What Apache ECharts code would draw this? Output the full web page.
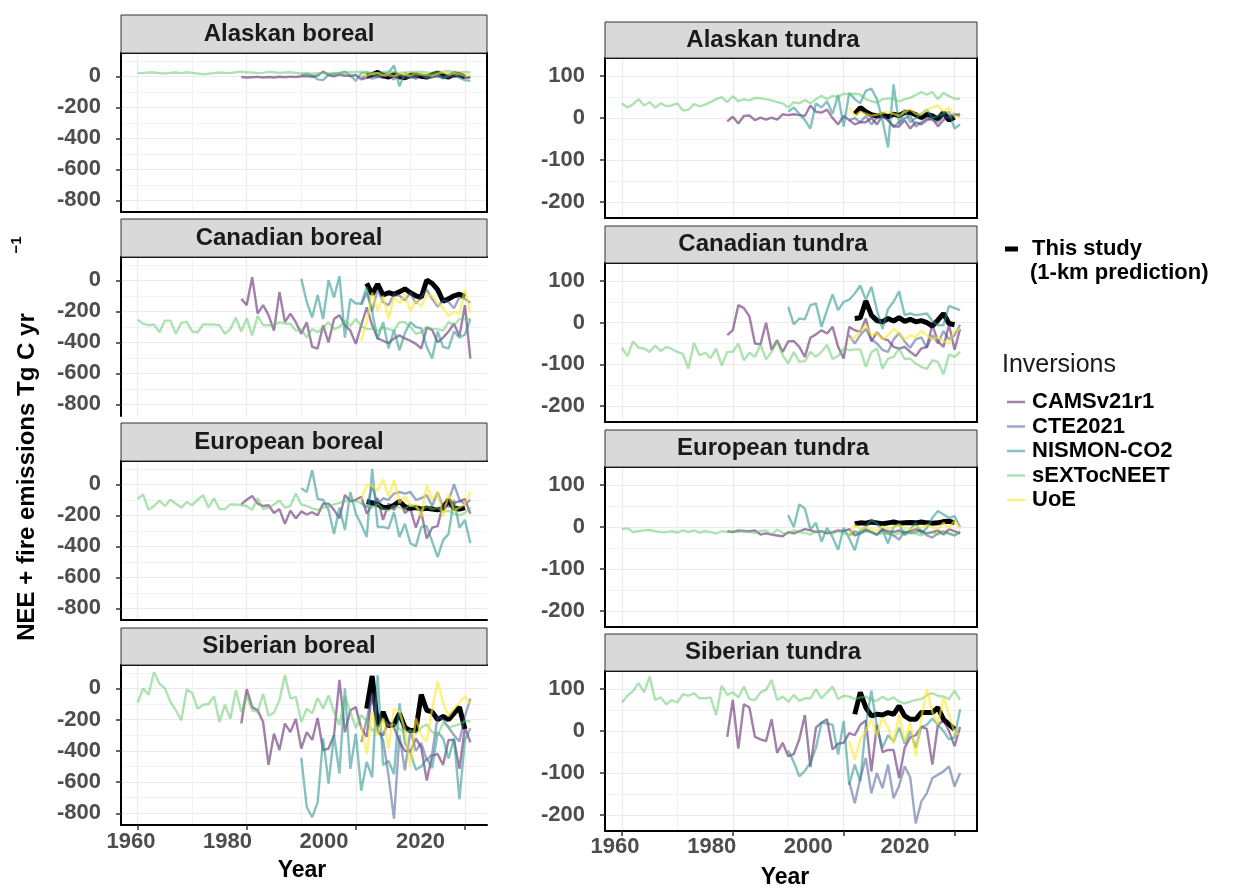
<!DOCTYPE html>
<html>
<head>
<meta charset="utf-8">
<script src="https://cdn.jsdelivr.net/npm/echarts@6/dist/echarts.min.js"></script>
<style>
html, body { margin: 0; background: #fff; }
#chart { width: 1236px; height: 888px; }
</style>
</head>
<body>
<div id="chart"></div>
<script>
// series order: This study, CAMSv21r1, CTE2021, NISMON-CO2, sEXTocNEET, UoE
const seriesNames = ['This study', 'CAMSv21r1', 'CTE2021', 'NISMON-CO2', 'sEXTocNEET', 'UoE'];
const startYears = [2002, 1979, 2001, 1990, 1960, 2001];
const xTicks = [1960, 1980, 2000, 2020];
const xMinorTicks = [1970, 1990, 2010];
const borealTicks = [-800, -600, -400, -200, 0];
const borealMinor = [-700, -500, -300, -100, 100];
const tundraTicks = [-200, -100, 0, 100];
const tundraMinor = [-150, -50, 50];

// Alaskan boreal
const thisAB = [0, 10, 25, 5, -5, 10, 0, -10, 5, 10, 0, -5, 10, 20, 5, -5, 15, 10, -5];
const camsAB = [-5, -8, -6, -4, -8, -5, -8, -3, -6, -2, -5, 0, 2, -3, 5, 30, 8, 0, 10, 5, 2, 8, -20, -10, 5, 0, -10, 10, 5, -15, -5, 0, -15, 5, -10, -5, 0, -10, 10, -5, 0, -10, -5];
const cteAB = [-10, 5, -15, -5, 10, 0, -20, 5, -10, -5, 0, 10, -15, -5, 5, 0, -10, 10, 5, -5, -10];
const nisAB = [10, 15, 5, -20, -25, 10, 15, 20, 30, 5, -30, 20, 25, 10, 0, 15, 25, 70, -65, 20, -10, 5, 15, -5, 0, 10, -15, 5, 20, -10, -25, -30];
const sextAB = [22, 20, 25, 24, 20, 18, 22, 24, 20, 26, 22, 18, 14, 16, 20, 24, 22, 20, 26, 30, 26, 24, 20, 22, 28, 26, 22, 24, 26, 22, 18, 20, 16, 20, 22, 18, 22, 20, 24, 26, 28, 30, 26, 22, 20, 28, 30, 26, 22, 24, 26, 28, 30, 24, 22, 26, 30, 32, 28, 24, 28, 25];
const uoeAB = [10, 5, 15, 20, 5, 10, 0, 15, 10, 5, 20, 15, 10, 5, 15, 25, 10, 20, 15, 5, 10];

// Canadian boreal
const thisCB = [-20, -90, -25, -95, -80, -90, -75, -55, -80, -100, -110, 0, -20, -60, -135, -120, -100, -90, -105];
const camsCB = [-120, -160, 20, -215, -160, -225, -325, -75, -270, -215, -270, -345, -270, -430, -440, -290, -400, -250, -225, -290, -325, -410, -290, -175, -290, -375, -390, -405, -375, -355, -375, -390, -410, -440, -305, -320, -400, -370, -330, -280, -360, -160, -505];
const cteCB = [-160, -80, -200, -60, -140, -160, -90, -100, -130, -80, -150, -110, -60, -120, -170, -130, -140, -180, -110, -120, -145];
const nisCB = [10, -140, -240, -95, -250, 0, -110, 25, -370, -120, -150, -150, -45, -205, -380, -270, -440, -320, -450, -340, -270, -300, -310, -430, -505, -330, -430, -440, -330, -370, -350, -250];
const sextCB = [-255, -280, -290, -285, -335, -260, -260, -345, -275, -268, -330, -335, -285, -285, -285, -290, -345, -315, -240, -330, -245, -355, -230, -290, -290, -290, -270, -280, -280, -325, -315, -370, -315, -335, -305, -270, -315, -300, -260, -295, -250, -295, -315, -315, -325, -305, -315, -325, -270, -270, -300, -345, -335, -300, -315, -315, -325, -270, -290, -250, -250, -250];
const uoeCB = [-390, -270, -80, -200, -100, -250, -110, -150, -90, -200, -130, -170, -90, -100, -150, -180, -230, -200, -220, -60, -210];

// European boreal
const thisEB = [-110, -120, -130, -150, -150, -135, -110, -145, -155, -150, -160, -155, -160, -165, -155, -100, -155, -160, -150];
const camsEB = [-130, -100, -75, -125, -140, -135, -185, -160, -255, -170, -220, -175, -195, -180, -200, -125, -125, -165, -220, -70, -110, -100, -80, -190, -130, -90, -230, -125, -165, -100, -185, -155, -280, -180, -350, -280, -270, -125, -145, -120, -110, -95, -190];
const cteEB = [-120, -150, -10, -130, -90, -100, -60, -50, -60, -50, -100, -90, -70, -140, -50, -150, -110, 0, -100, -130, -100];
const nisEB = [-25, -50, 90, -95, -100, -165, -320, -150, -295, -50, -190, -260, -340, 100, -275, -275, -285, -180, -340, -255, -380, -400, -275, -270, -370, -470, -360, -320, -100, -280, -230, -380];
const sextEB = [-95, -65, -165, -140, -105, -140, -100, -125, -150, -115, -135, -100, -70, -150, -90, -160, -160, -130, -130, -135, -140, -165, -90, -160, -150, -130, -105, -150, -140, -60, -130, -140, -155, -165, -150, -145, -130, -120, -110, -100, -110, -120, -140, -150, -130, -160, -170, -140, -150, -160, -130, -150, -170, -140, -160, -150, -180, -170, -190, -200, -185, -150];
const uoeEB = [-100, -5, -10, -40, 30, -80, 25, -120, -80, -140, -130, -210, -5, -100, -50, -210, -60, -170, -150, -130, -50];

// Siberian boreal
const thisSB = [-130, 80, -240, -150, -240, -230, -160, -250, -270, -270, -40, -140, -150, -200, -180, -200, -160, -120, -260];
const camsSB = [-225, -5, -120, -140, -215, -490, -290, -395, -225, -280, -195, -385, -280, -330, -190, -395, -385, -300, 55, -280, -140, -120, -255, -310, -20, -280, -300, -210, -250, -340, -400, -405, -320, -380, -590, -430, -420, -490, -330, -330, -515, -250, -345];
const cteSB = [-345, -200, -30, -260, -330, -560, -835, -300, -525, -270, -400, -350, -460, -420, -180, -200, -250, -300, -340, -180, -65];
const nisSB = [-445, -760, -825, -730, -320, -610, -300, -545, 0, -515, -290, -655, -470, -570, 85, -490, -465, -550, -95, -350, -410, -520, -500, -450, -510, -280, -320, -450, -320, -710, -330, -255];
const sextSB = [-90, 0, -40, 105, 30, 0, -85, -140, -205, -5, -30, -130, -105, -100, -50, -215, -105, -195, -10, -150, -45, -140, -150, -35, -175, -155, -75, 85, -65, -55, -215, -130, -160, -60, -130, -45, -150, -235, -50, -150, -255, -170, -210, -270, -250, -200, -240, -230, -260, -280, -270, -290, -250, -230, -280, -300, -220, -250, -240, -230, -210, -210];
const uoeSB = [-240, -420, -150, -300, -190, -385, -130, -150, -260, -500, -190, -300, -340, -130, 45, -90, -180, -130, -90, -50, -100];

// Alaskan tundra
const thisAT = [10, 25, 15, 8, 5, 8, 3, 9, 6, 13, 14, 8, 1, 9, 5, -2, 13, -5, 2];
const camsAT = [-8, 3, -13, 5, 6, -5, 1, -4, 1, -4, 9, 7, 9, 7, 5, 30, 15, 13, 20, 0, -15, 5, -5, -15, -10, -10, 0, -15, 5, -5, -20, -20, -5, -25, -10, -15, -5, 0, -20, -5, 5, 9, 5];
const cteAT = [-5, 0, -10, 5, -15, 0, 5, -5, -20, -10, 0, 5, -20, -10, 0, -5, -10, 5, 0, 5, 10];
const nisAT = [15, 25, 10, -5, -25, 35, 25, 40, 10, 55, -20, 60, 45, 35, 65, 70, 45, -5, -70, 80, -15, 20, -10, 0, 10, 20, 0, 5, 10, 15, -25, -15];
const sextAT = [35, 25, 33, 45, 30, 38, 25, 35, 28, 30, 35, 18, 20, 33, 28, 32, 38, 45, 50, 38, 52, 40, 45, 42, 48, 47, 45, 42, 38, 35, 25, 38, 35, 43, 35, 45, 53, 45, 53, 50, 58, 57, 58, 56, 45, 40, 37, 45, 47, 45, 40, 45, 48, 55, 62, 56, 62, 45, 60, 52, 46, 46];
const uoeAT = [25, 5, 15, 10, 5, 8, 12, 15, 10, 5, 15, 20, 10, 8, 20, 25, 30, 15, 25, 5, 3];

// Canadian tundra
const thisCT = [10, 12, 52, 18, 5, 2, 10, 4, 12, 3, 8, 2, 5, 0, -8, 6, 22, -2, -5];
const camsCT = [-30, -18, 42, 35, 15, -50, -52, 0, -65, -42, -70, -45, -44, -58, -82, -36, -28, -18, -26, -10, -58, -86, -10, -18, -22, 10, -45, -23, -38, -42, -58, -62, -58, -70, -80, -62, -58, -5, -45, -58, -5, -65, -15];
const cteCT = [-30, -50, -30, -15, -40, -50, -65, -70, -40, -25, -45, -60, -40, -35, -60, -30, -50, -20, -40, -30, -5];
const nisCT = [38, -4, 10, 8, 42, 46, -10, 30, 68, 30, 50, 55, 70, 89, 55, 86, 30, -15, 33, 50, 75, 18, 22, 18, 20, 22, 4, -6, -6, 40, 35, 30];
const sextCT = [-60, -80, -45, -60, -62, -70, -55, -68, -58, -63, -70, -75, -110, -48, -78, -72, -85, -62, -103, -70, -70, -50, -90, -72, -82, -53, -88, -70, -45, -78, -98, -70, -94, -92, -70, -82, -70, -53, -87, -80, -62, -66, -64, -64, -106, -71, -62, -110, -86, -82, -62, -87, -86, -98, -106, -111, -90, -94, -124, -76, -82, -70];
const uoeCT = [-40, -35, -20, -5, -30, -25, -40, -30, -15, -25, -40, -30, -35, -20, -30, -40, -35, -45, -50, -20, -15];

// European tundra
const thisET = [8, 10, 9, 12, 10, 8, 10, 12, 9, 10, 11, 10, 12, 10, 9, 10, 13, 14, 10];
const camsET = [-10, -12, -8, -10, -10, -8, -18, -15, -18, -20, -22, -12, -15, -10, -5, -8, -12, -10, -15, -12, -8, -10, -5, -20, -15, -8, -12, -18, -5, -10, -12, -8, -15, -10, -5, -10, -15, -12, -8, -18, -5, -10, -15];
const cteET = [-20, -10, -15, -5, -12, -18, -8, -15, -20, -30, -10, -15, -12, -8, -20, -25, -15, -10, -15, -20, -12];
const nisET = [28, 0, 54, 44, -6, 10, -35, -2, -24, -54, -2, -27, -55, -8, 0, 18, 8, -6, -39, 0, 8, -19, -6, 10, -15, -2, 22, 38, 30, 22, 26, 0];
const sextET = [-5, -3, -12, -10, -8, -7, -10, -12, -12, -10, -13, -8, -12, -8, -13, -10, -12, -15, -10, -12, -10, -12, -8, -12, -14, -10, -8, -18, -6, -14, -15, -8, -12, -14, -18, -10, -12, -8, -16, -10, -15, -18, -12, -14, -10, -12, -18, -15, -16, -20, -14, -18, -12, -16, -20, -14, -12, -18, -12, -16, -20, -10];
const uoeET = [-20, 5, -5, 0, -5, -8, 2, -5, 0, 5, -2, -5, 0, -2, 5, 0, -5, 10, -3, 15, -5];

// Siberian tundra
const thisST = [40, 92, 56, 36, 40, 38, 44, 40, 60, 36, 28, 28, 44, 44, 44, 56, 28, 16, 4];
const camsST = [-14, 74, -42, 64, 56, -14, -20, -24, 28, -52, -28, -60, -55, -20, 38, -86, 8, 20, 28, -44, -30, -28, -5, -10, 15, 25, -96, 15, -50, -45, -45, -112, -40, -15, -10, 10, 5, -80, 15, 25, 0, -36, 10];
const cteST = [-120, -172, -112, -64, -148, -100, -136, -80, -160, -130, -84, -110, -220, -168, -148, -112, -104, -96, -84, -132, -100];
const nisST = [-46, -74, -108, -95, -75, -40, 20, 18, 15, -56, 24, -128, -80, -120, 16, 96, 10, -40, -10, -25, 8, -30, 0, -40, 10, 15, 30, 15, 0, -20, -15, 52];
const sextST = [68, 84, 95, 114, 92, 130, 74, 80, 64, 74, 68, 88, 84, 90, 78, 78, 80, 38, 108, 86, 92, 80, 106, 76, 74, 92, 98, 122, 74, 82, 70, 86, 72, 78, 78, 100, 78, 92, 106, 76, 84, 82, 76, 80, 82, 74, 72, 82, 74, 80, 70, 66, 70, 74, 76, 86, 90, 84, 82, 76, 96, 74];
const uoeST = [-24, -68, -20, 0, 28, -10, 32, 10, -30, 40, -25, 20, -60, 30, 100, 45, 15, 80, 40, -5, -8];

const lineColors = ['#000000', 'rgba(68,1,84,0.5)', 'rgba(59,82,139,0.5)', 'rgba(33,144,140,0.55)', 'rgba(93,200,99,0.5)', 'rgba(253,231,37,0.6)'];
const lineWidths = [5, 2.4, 2.4, 2.4, 2.4, 2.4];

const FONT = '"Liberation Sans", Arial, sans-serif';

const leftCol = { left: 121, width: 366, yMin: -875, yMax: 150, ticks: borealTicks, minor: borealMinor, textX: 289, labMin: 1957.93, labMax: 2033.79, labMargin: 6 };
const rightCol = { left: 605, width: 372, yMin: -238, yMax: 143, ticks: tundraTicks, minor: tundraMinor, textX: 773, labMin: 1957.93, labMax: 2034.9, labMargin: 5 };

const panels = [
    { title: 'Alaskan boreal', col: leftCol, stripTop: 15, top: 53, bottom: 212, right: true, floor: true, last: false, data: [thisAB, camsAB, cteAB, nisAB, sextAB, uoeAB] },
    { title: 'Canadian boreal', col: leftCol, stripTop: 219, top: 257, bottom: 416, right: false, floor: false, last: false, data: [thisCB, camsCB, cteCB, nisCB, sextCB, uoeCB] },
    { title: 'European boreal', col: leftCol, stripTop: 423, top: 461, bottom: 620, right: false, floor: true, last: false, data: [thisEB, camsEB, cteEB, nisEB, sextEB, uoeEB] },
    { title: 'Siberian boreal', col: leftCol, stripTop: 628, top: 665, bottom: 825, right: false, floor: true, last: true, data: [thisSB, camsSB, cteSB, nisSB, sextSB, uoeSB] },
    { title: 'Alaskan tundra', col: rightCol, stripTop: 22, top: 58, bottom: 218, right: true, floor: true, last: false, data: [thisAT, camsAT, cteAT, nisAT, sextAT, uoeAT] },
    { title: 'Canadian tundra', col: rightCol, stripTop: 226, top: 263, bottom: 422, right: true, floor: true, last: false, data: [thisCT, camsCT, cteCT, nisCT, sextCT, uoeCT] },
    { title: 'European tundra', col: rightCol, stripTop: 430, top: 467, bottom: 627, right: true, floor: true, last: false, data: [thisET, camsET, cteET, nisET, sextET, uoeET] },
    { title: 'Siberian tundra', col: rightCol, stripTop: 634, top: 671, bottom: 831, right: true, floor: true, last: true, data: [thisST, camsST, cteST, nisST, sextST, uoeST] }
];

const border = { show: true, onZero: false, lineStyle: { color: '#000', width: 2 } };
const noLine = { show: false, onZero: false };
const plain = function (v) { return String(v); };

let grid = [], xAxis = [], yAxis = [], series = [], graphic = [];

panels.forEach(function (p, i) {
    const c = p.col;
    grid.push({ left: c.left, top: p.top, width: c.width, height: p.bottom - p.top, outerBoundsMode: 'none' });

    // main x axis: major grid lines and ticks
    xAxis.push({
        type: 'value', gridIndex: i, min: 1956.95, max: 2024.05, position: 'bottom',
        axisLine: p.floor ? border : noLine,
        axisTick: { show: p.last, customValues: xTicks, length: 5, lineStyle: { color: '#333', width: 1.5 } },
        axisLabel: { show: false, customValues: xTicks },
        splitLine: { show: true, lineStyle: { color: '#ebebeb', width: 1.2 } }
    });
    // minor x axis: minor grid lines, top border
    xAxis.push({
        type: 'value', gridIndex: i, min: 1956.95, max: 2024.05, position: 'top',
        axisLine: border,
        axisTick: { show: false, customValues: xMinorTicks },
        axisLabel: { show: false, customValues: xMinorTicks },
        splitLine: { show: true, lineStyle: { color: '#f2f2f2', width: 1 } }
    });
    // year labels of the bottom panels
    xAxis.push({
        type: 'value', gridIndex: i, min: c.labMin, max: c.labMax, position: 'bottom', show: p.last,
        axisLine: noLine, axisTick: { show: false }, splitLine: { show: false },
        axisLabel: { show: p.last, customValues: xTicks, formatter: plain, margin: c.labMargin, color: '#4d4d4d', fontWeight: 'bold', fontSize: 22, fontFamily: FONT }
    });

    yAxis.push({
        type: 'value', gridIndex: i, min: c.yMin, max: c.yMax, position: 'left',
        axisLine: border,
        axisTick: { show: true, customValues: c.ticks, length: 5, lineStyle: { color: '#333', width: 1.5 } },
        axisLabel: { customValues: c.ticks, formatter: plain, margin: 20, color: '#4d4d4d', fontWeight: 'bold', fontSize: 22, fontFamily: FONT },
        splitLine: { show: true, lineStyle: { color: '#ebebeb', width: 1.2 } }
    });
    yAxis.push({
        type: 'value', gridIndex: i, min: c.yMin, max: c.yMax, position: 'right',
        axisLine: p.right ? border : noLine,
        axisTick: { show: false, customValues: c.minor },
        axisLabel: { show: false, customValues: c.minor },
        splitLine: { show: true, lineStyle: { color: '#f2f2f2', width: 1 } }
    });

    p.data.forEach(function (vals, k) {
        series.push({
            name: seriesNames[k], type: 'line', xAxisIndex: i * 3, yAxisIndex: i * 2,
            showSymbol: false, symbol: 'none', silent: true,
            color: lineColors[k],
            itemStyle: { color: lineColors[k] },
            lineStyle: { color: lineColors[k], width: lineWidths[k] },
            data: vals.map(function (v, j) { return [startYears[k] + j, v]; })
        });
    });

    // facet strip
    graphic.push({
        type: 'rect', z: 10,
        shape: { x: c.left, y: p.stripTop, width: c.width, height: p.top - p.stripTop },
        style: { fill: '#d9d9d9', stroke: '#333', lineWidth: 1 }
    });
    graphic.push({
        type: 'text', z: 11, x: c.textX, y: (p.stripTop + p.top) / 2,
        style: { text: p.title, font: 'bold 24px ' + FONT, fill: '#1a1a1a', align: 'center', verticalAlign: 'middle' }
    });
});

graphic.push(
    { type: 'text', x: 302, y: 871, style: { text: 'Year', font: 'bold 23px ' + FONT, fill: '#000', align: 'center', verticalAlign: 'middle' } },
    { type: 'text', x: 785, y: 878, style: { text: 'Year', font: 'bold 23px ' + FONT, fill: '#000', align: 'center', verticalAlign: 'middle' } },
    { type: 'text', x: 27, y: 477, rotation: Math.PI / 2, style: { text: 'NEE + fire emissions Tg C yr', font: 'bold 24px ' + FONT, fill: '#000', align: 'center', verticalAlign: 'middle' } },
    { type: 'text', x: 17, y: 245, rotation: Math.PI / 2, style: { text: '\u22121', font: 'bold 15px ' + FONT, fill: '#000', align: 'center', verticalAlign: 'middle' } },
    { type: 'text', x: 1030, y: 273, style: { text: '(1-km prediction)', font: 'bold 22px ' + FONT, fill: '#000', align: 'left', verticalAlign: 'middle' } },
    { type: 'text', x: 1002, y: 365, style: { text: 'Inversions', font: '25px ' + FONT, fill: '#1a1a1a', align: 'left', verticalAlign: 'middle' } }
);

const chart = echarts.init(document.getElementById('chart'));
chart.setOption({
    animation: false,
    backgroundColor: '#fff',
    grid: grid,
    xAxis: xAxis,
    yAxis: yAxis,
    legend: [
        {
            data: ['This study'], left: 1000, top: 231, orient: 'vertical',
            icon: 'rect', itemWidth: 13, itemHeight: 5,
            textStyle: { fontFamily: FONT, fontWeight: 'bold', fontSize: 22, color: '#000', lineHeight: 26, padding: [0, 0, 0, 9] }
        },
        {
            data: ['CAMSv21r1', 'CTE2021', 'NISMON-CO2', 'sEXTocNEET', 'UoE'], left: 1002, top: 385, orient: 'vertical',
            icon: 'rect', itemWidth: 18, itemHeight: 2.5, itemGap: 0.5,
            textStyle: { fontFamily: FONT, fontWeight: 'bold', fontSize: 22, color: '#000', lineHeight: 24, padding: [0, 0, 0, 2] }
        }
    ],
    graphic: graphic,
    series: series
});
window.addEventListener('resize', function () { chart.resize(); });
</script>
</body>
</html>
